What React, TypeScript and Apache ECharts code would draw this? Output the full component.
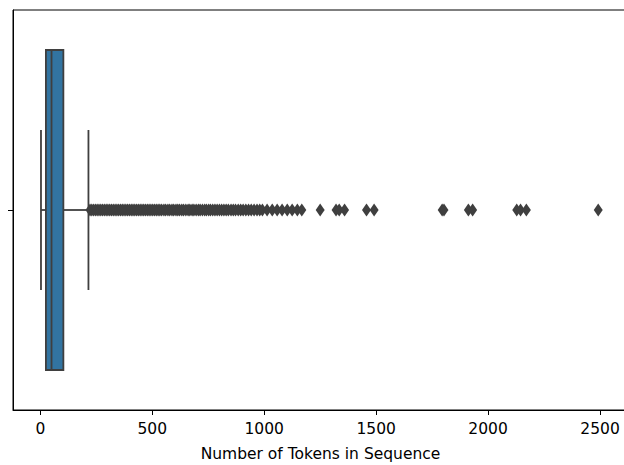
import React, { useEffect, useRef } from "react";
import * as echarts from "echarts";

const categories = [""];
// [lower whisker, Q1, median, Q3, upper whisker]
const boxStats = [3, 25, 50, 103, 215];
const outliers = [
  222, 230, 238, 246, 254, 262, 270, 278, 286, 294, 302, 310, 318, 326, 334, 342, 350,
  358, 366, 374, 382, 390, 398, 406, 414, 422, 430, 438, 446, 454, 462, 470, 478, 486,
  494, 502, 510, 518, 526, 534, 542, 552, 560, 570, 578, 588, 596, 606, 614, 622, 632,
  640, 650, 660, 668, 678, 686, 696, 706, 714, 724, 734, 742, 752, 760, 770, 780, 790,
  800, 810, 820, 830, 840, 852, 862, 872, 884, 895, 906, 918, 930, 942, 955, 968, 980,
  992, 1013, 1036, 1058, 1080, 1103, 1125, 1148, 1168, 1250, 1321, 1335, 1359, 1457,
  1491, 1795, 1803, 1912, 1931, 2128, 2145, 2171, 2492,
];
const tickValues = [0, 500, 1000, 1500, 2000, 2500];
const xTitle = "Number of Tokens in Sequence";

const EDGE = "#3f3f3f";
const FILL = "#3274a1";
const FONT = "DejaVu Sans";

export default function App() {
  const ref = useRef<HTMLDivElement>(null);
  useEffect(() => {
    const chart = echarts.init(ref.current!, null, { renderer: "svg" });
    chart.setOption({
      animation: false,
      grid: {
        left: 13,
        right: -4,
        top: 10,
        bottom: 55,
        outerBoundsMode: "none",
        containLabel: false,
        show: true,
        borderColor: "#000",
        borderWidth: 1,
        backgroundColor: "transparent",
      },
      xAxis: {
        type: "value",
        min: -122,
        max: 2625,
        splitLine: { show: false },
        axisLine: { show: true, onZero: false, lineStyle: { color: "#000", width: 1 } },
        axisTick: {
          show: true,
          length: 5,
          customValues: tickValues,
          lineStyle: { color: "#000", width: 1 },
        },
        axisLabel: {
          customValues: tickValues,
          formatter: (v: number) => String(v),
          color: "#000",
          fontFamily: FONT,
          fontSize: 15.5,
          margin: 11,
        },
        name: xTitle,
        nameLocation: "middle",
        nameGap: 36,
        nameTextStyle: { color: "#000", fontFamily: FONT, fontSize: 15.5 },
      },
      yAxis: {
        type: "category",
        data: categories,
        axisLine: { show: true, onZero: false, lineStyle: { color: "#000", width: 1 } },
        axisTick: {
          show: true,
          length: 5,
          alignWithLabel: true,
          lineStyle: { color: "#000", width: 1 },
        },
        axisLabel: { show: false },
        splitLine: { show: false },
      },
      series: [
        {
          type: "custom",
          data: [[...boxStats, 0]],
          encode: { x: [0, 1, 2, 3, 4], y: 5 },
          z: 2,
          renderItem: (params: any, api: any) => {
            const lo = api.value(0);
            const q1 = api.value(1);
            const med = api.value(2);
            const q3 = api.value(3);
            const hi = api.value(4);
            const cat = api.value(5);
            const pLo = api.coord([lo, cat]);
            const pQ1 = api.coord([q1, cat]);
            const pMed = api.coord([med, cat]);
            const pQ3 = api.coord([q3, cat]);
            const pHi = api.coord([hi, cat]);
            const band = api.size([0, 1])[1];
            const cy = pMed[1];
            const bh = band * 0.8;
            const ch = band * 0.4;
            const ls = { stroke: EDGE, lineWidth: 1.8 };
            return {
              type: "group",
              children: [
                { type: "line", shape: { x1: pLo[0], y1: cy, x2: pQ1[0], y2: cy }, style: ls },
                { type: "line", shape: { x1: pQ3[0], y1: cy, x2: pHi[0], y2: cy }, style: ls },
                { type: "line", shape: { x1: pLo[0], y1: cy - ch / 2, x2: pLo[0], y2: cy + ch / 2 }, style: ls },
                { type: "line", shape: { x1: pHi[0], y1: cy - ch / 2, x2: pHi[0], y2: cy + ch / 2 }, style: ls },
                {
                  type: "rect",
                  shape: { x: pQ1[0], y: cy - bh / 2, width: pQ3[0] - pQ1[0], height: bh },
                  style: { fill: FILL, stroke: EDGE, lineWidth: 1.8 },
                },
                { type: "line", shape: { x1: pMed[0], y1: cy - bh / 2, x2: pMed[0], y2: cy + bh / 2 }, style: ls },
              ],
            };
          },
        },
        {
          type: "scatter",
          z: 3,
          symbol: "diamond",
          symbolSize: [9, 13],
          itemStyle: { color: EDGE, opacity: 1 },
          data: outliers.map((v) => [v, 0]),
        },
      ],
    });
    return () => chart.dispose();
  }, []);
  return (
    <div
      ref={ref}
      style={{ position: "fixed", left: 0, top: 0, width: 624, height: 465, background: "#fff" }}
    />
  );
}
